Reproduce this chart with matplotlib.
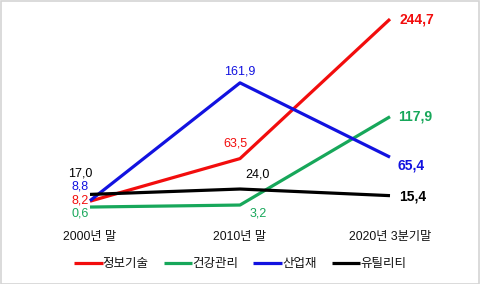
import matplotlib
matplotlib.use("Agg")
import matplotlib.pyplot as plt
from matplotlib.patches import Rectangle

plt.rcParams['font.family'] = ['Liberation Sans', 'Noto Sans CJK KR', 'DejaVu Sans']

categories = ["2000년 말", "2010년 말", "2020년 3분기말"]
series_names = ["정보기술", "건강관리", "산업재", "유틸리티"]
info_tech = [8.2, 63.5, 244.7]
health = [0.6, 3.2, 117.9]
industrial = [8.8, 161.9, 65.4]
utility = [17.0, 24.0, 15.4]
colors = ["#f20d0d", "#17a75a", "#1212e0", "#000000"]
series = [info_tech, health, industrial, utility]

W, H = 480, 284
fig = plt.figure(figsize=(W / 100, H / 100), dpi=100)
ax = fig.add_axes([30 / W, (H - 215) / H, 420 / W, 205 / H])
ax.set_xlim(-0.4, 2.4)
ppu = 0.77
ax.set_ylim(-(215 - 207.5) / ppu, (207.5 - 10) / ppu)
for s in ax.spines.values():
    s.set_visible(False)
ax.set_xticks([])
ax.set_yticks([])
ax.patch.set_alpha(0)

x = list(range(len(categories)))
lines = []
for name, vals, c in zip(series_names, series, colors):
    ln, = ax.plot(x, vals, color=c, lw=2.3, label=name, solid_capstyle='butt')
    lines.append(ln)

def lab(xi, v, txt, c, dx, dy, ha, bold=False, size=9.0):
    ax.annotate(txt, (xi, v), xytext=(dx, dy), textcoords='offset pixels',
                ha=ha, va='center', color=c, fontsize=size,
                fontweight='bold' if bold else 'normal')

def fmt(v):
    return f"{v:.1f}".replace('.', ',')

# left labels
lab(0, utility[0], fmt(utility[0]), colors[3], 2, 21, 'right')
lab(0, industrial[0], fmt(industrial[0]), colors[2], -1, 14, 'right')
lab(0, info_tech[0], fmt(info_tech[0]), colors[0], -1, 1, 'right')
lab(0, health[0], fmt(health[0]), colors[1], -1, -6, 'right')
# middle labels
lab(1, industrial[1], fmt(industrial[1]), colors[2], 0, 11, 'center')
lab(1, info_tech[1], fmt(info_tech[1]), colors[0], 7, 15, 'right')
lab(1, utility[1], fmt(utility[1]), colors[3], 18, 15, 'center')
lab(1, health[1], fmt(health[1]), colors[1], 18, -8, 'center')
# right labels
lab(2, info_tech[2], fmt(info_tech[2]), colors[0], 9, 0, 'left', True, 10)
lab(2, health[2], fmt(health[2]), colors[1], 8, 0, 'left', True, 10)
lab(2, industrial[2], fmt(industrial[2]), colors[2], 7, -8, 'left', True, 10)
lab(2, utility[2], fmt(utility[2]), colors[3], 9, -1, 'left', True, 10)

# category labels
for xi, c in zip(x, categories):
    ax.annotate(c, (xi, 0), xycoords=('data', 'figure fraction'),
                xytext=(xi, (H - 237) / H), textcoords=('data', 'figure fraction'),
                ha='center', va='center', fontsize=8.8, color='#111111')

leg = fig.legend(handles=lines, loc='center', bbox_to_anchor=(0.5, (H - 264) / H),
                 ncol=4, frameon=False, fontsize=9.0, handlelength=2.3,
                 handletextpad=0.0, columnspacing=1.2)
for t in leg.get_texts():
    t.set_color('#111111')

fig.patches.append(Rectangle((0.5 / W, 0.5 / H), 1 - 1.5 / W, 1 - 1.5 / H,
                             transform=fig.transFigure, fill=False,
                             edgecolor='#d4d4d4', lw=1.2))

fig.savefig("out.png", dpi=100)
